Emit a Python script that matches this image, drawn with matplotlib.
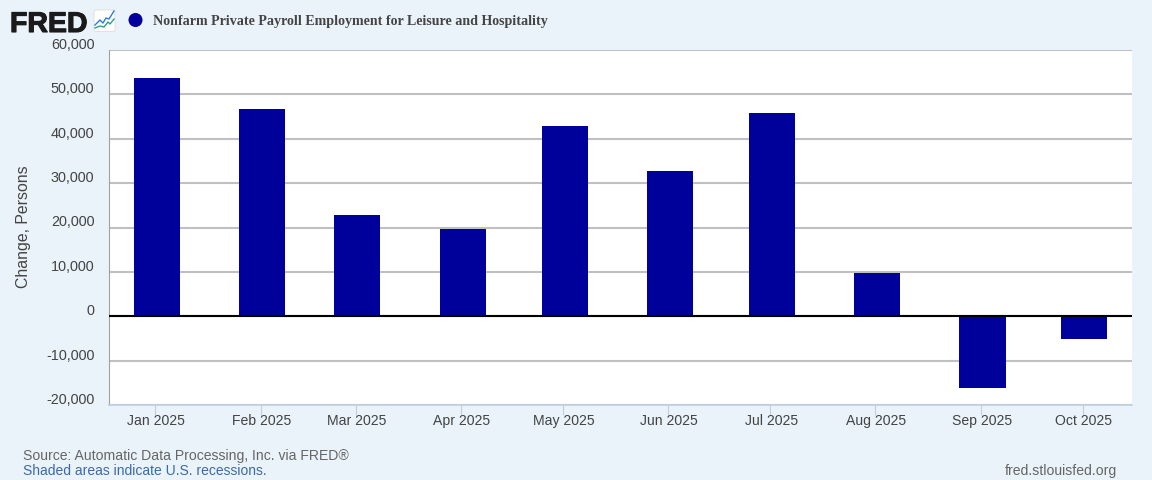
import matplotlib
matplotlib.use("Agg")
import matplotlib.pyplot as plt
import matplotlib.dates as mdates
import matplotlib.patheffects as pe
from matplotlib.patches import Circle, FancyBboxPatch
from matplotlib.transforms import ScaledTranslation
from datetime import datetime, timedelta

months = ["2025-01-01", "2025-02-01", "2025-03-01", "2025-04-01", "2025-05-01",
          "2025-06-01", "2025-07-01", "2025-08-01", "2025-09-01", "2025-10-01"]
month_labels = ["Jan 2025", "Feb 2025", "Mar 2025", "Apr 2025", "May 2025",
                "Jun 2025", "Jul 2025", "Aug 2025", "Sep 2025", "Oct 2025"]
change = [53600, 46600, 22750, 19600, 42800, 32650, 45700, 9700, -16200, -5200]
y_ticks = [-20000, -10000, 0, 10000, 20000, 30000, 40000, 50000, 60000]

BG = "#EAF2FA"
W, H = 1152, 480

plt.rcParams['font.family'] = ['Liberation Sans', 'DejaVu Sans']

dates = [datetime.strptime(m, "%Y-%m-%d") for m in months]
# the bars sit half a day to the right of their ticks on FRED
tick_dates = [d - timedelta(hours=12) for d in dates]

fig = plt.figure(figsize=(W / 100, H / 100), dpi=100, facecolor=BG)
ax = fig.add_axes([108.5 / W, 1 - 405 / H, (1132 - 108.5) / W, 355 / H])

ax.bar(dates, change, width=13.55, color="#00009A", zorder=3)
ax.axhline(0, color="black", lw=1.5, zorder=4)

ax.set_xlim(datetime(2025, 1, 1) - timedelta(days=14.26), datetime(2025, 1, 1) + timedelta(days=287))
ax.set_ylim(-20000, 60000)
ax.xaxis_date()
ax.set_xticks(mdates.date2num(tick_dates))
ax.set_xticklabels(month_labels, fontsize=10.05, color="#444444")
ax.set_yticks(y_ticks)
ax.set_yticklabels([f"{v:,}" for v in y_ticks], fontsize=10.4, color="#444444")
ax.tick_params(axis="x", length=7.2, width=0.8, color="#C0D0E0", pad=-0.7)
ax.tick_params(axis="y", length=0, pad=10.2)
offset = ScaledTranslation(0, 6.5 / 100, fig.dpi_scale_trans)
for lab in ax.get_yticklabels():
    lab.set_transform(lab.get_transform() + offset)
x_offset = ScaledTranslation(1 / 100, 0, fig.dpi_scale_trans)
for lab in ax.get_xticklabels():
    lab.set_transform(lab.get_transform() + x_offset)

ax.grid(axis="y", color="#C0C0C0", lw=1.5, zorder=1)
ax.set_axisbelow(True)
for side in ["top", "right"]:
    ax.spines[side].set_visible(False)
ax.spines["left"].set_color("#A0A0A0")
ax.spines["left"].set_linewidth(0.8)
ax.spines["bottom"].set_color("#C0D0E0")
ax.spines["bottom"].set_linewidth(1.2)

fig.text(23.5 / W, 1 - 226.5 / H, "Change, Persons", rotation=90, ha="center", va="center",
         fontsize=11.4, color="#444444")

# header
fig.text(10 / W, 1 - 32 / H, "FRED", fontsize=20.5, fontweight="bold", color="#1A1A1A",
         ha="left", va="baseline",
         path_effects=[pe.withStroke(linewidth=0.8, foreground="#1A1A1A")])
overlay = fig.add_axes([0, 0, 1, 1], facecolor="none")
overlay.set_xlim(0, W)
overlay.set_ylim(H, 0)
overlay.axis("off")
overlay.add_patch(FancyBboxPatch((94.5, 10.5), 20, 20.5, boxstyle="round,pad=0.5,rounding_size=2",
                                 fc="white", ec="#DDDDDD", lw=0.6))
overlay.plot([95, 100, 103, 106, 109, 114], [25, 20, 23, 18, 19, 11], color="#2B7BD6", lw=1)
overlay.plot([95, 100, 104, 108, 110, 114], [28, 26, 27, 22, 24, 19], color="#2E9E8A", lw=1)
overlay.add_patch(Circle((135.5, 20), 7, fc="#00009A", ec="none"))

fig.text(153 / W, 1 - 21 / H, "Nonfarm Private Payroll Employment for Leisure and Hospitality",
         fontsize=10.1, fontweight="bold", family=["Liberation Serif", "DejaVu Serif"],
         color="#444444", ha="left", va="center")

# footer
fig.text(23 / W, 1 - 456 / H, "Source: Automatic Data Processing, Inc. via FRED®", fontsize=10.05,
         color="#666666", ha="left", va="center")
fig.text(23 / W, 1 - 471 / H, "Shaded areas indicate U.S. recessions.", fontsize=10,
         color="#3C6AA8", ha="left", va="center")
fig.text(1117 / W, 1 - 471 / H, "fred.stlouisfed.org", fontsize=10.07,
         color="#666666", ha="right", va="center")

fig.savefig("out.png", dpi=100, facecolor=BG)
